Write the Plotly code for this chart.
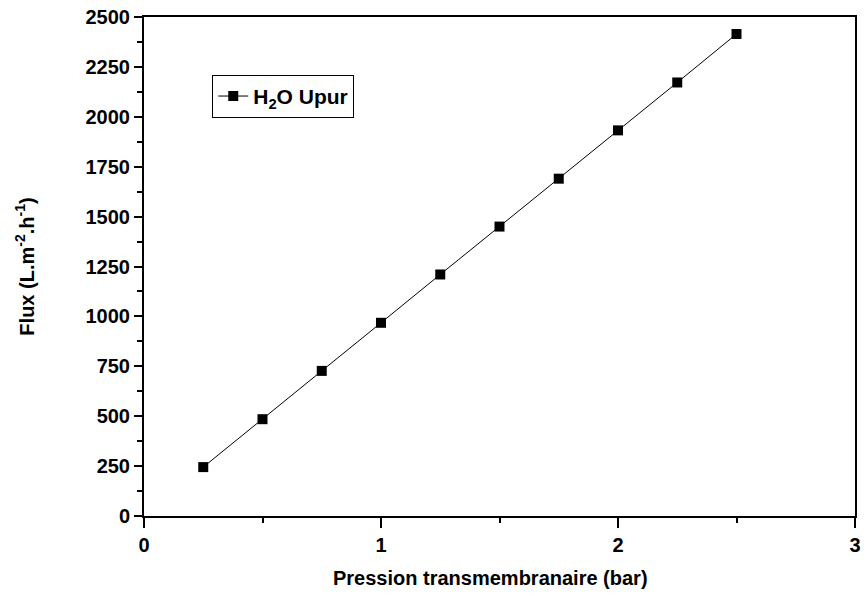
import plotly.graph_objects as go

pressure = [0.25, 0.5, 0.75, 1.0, 1.25, 1.5, 1.75, 2.0, 2.25, 2.5]
flux = [245, 485, 727, 968, 1210, 1450, 1690, 1932, 2172, 2415]
series_name = "H<sub>2</sub>O Upur"
x_title = "Pression transmembranaire (bar)"
y_title = "Flux (L.m<sup>-2</sup>.h<sup>-1</sup>)"

font_family = "Arial"
bold = dict(family=font_family, size=20, color="black", weight="bold")

fig = go.Figure()
fig.add_trace(go.Scatter(
    x=pressure, y=flux, mode="lines+markers", name=series_name,
    line=dict(color="black", width=1),
    marker=dict(symbol="square", size=10, color="black"),
))

fig.update_layout(
    width=867, height=596,
    margin=dict(l=144, r=6, t=16, b=80),
    paper_bgcolor="white", plot_bgcolor="white",
    font=dict(family=font_family, size=20, color="black"),
    showlegend=True,
    legend=dict(
        x=0.096, y=0.884, xanchor="left", yanchor="top",
        bordercolor="black", borderwidth=1, bgcolor="white",
        font=dict(family=font_family, size=21, color="black", weight="bold"),
        entrywidth=175, entrywidthmode="pixels",
    ),
    annotations=[dict(
        text=x_title, xref="paper", yref="paper", x=0.488, y=-0.124,
        xanchor="center", yanchor="middle", showarrow=False, font=bold,
    )],
)

fig.update_xaxes(
    range=[0, 3], tickvals=[0, 1, 2, 3],
    showgrid=False, zeroline=False,
    showline=True, linecolor="black", linewidth=2, mirror=True,
    ticks="outside", ticklen=10, tickwidth=2, tickcolor="black",
    minor=dict(tickvals=[0.5, 1.5, 2.5], ticks="outside", ticklen=5, tickwidth=2, tickcolor="black"),
    tickfont=bold,
)
fig.update_yaxes(
    range=[0, 2500], dtick=250,
    showgrid=False, zeroline=False,
    showline=True, linecolor="black", linewidth=2, mirror=True,
    ticks="outside", ticklen=8, tickwidth=2, tickcolor="black",
    minor=dict(dtick=125, ticks="outside", ticklen=5, tickwidth=2, tickcolor="black"),
    tickfont=bold,
    title=dict(text=y_title, font=bold, standoff=46),
)

fig.write_html("out.html")
